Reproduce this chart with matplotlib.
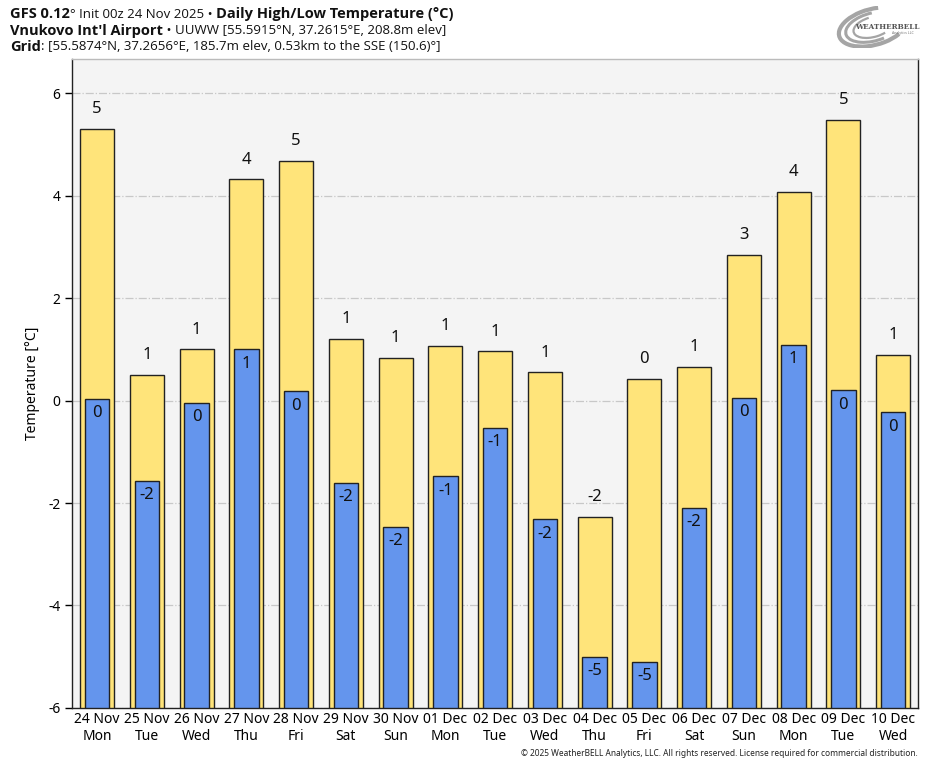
import matplotlib
matplotlib.use("Agg")
import matplotlib.pyplot as plt
from matplotlib.patches import Arc
from matplotlib import font_manager
import numpy as np

plt.rcParams['font.family'] = ['Noto Sans', 'DejaVu Sans']

dates = ["24 Nov", "25 Nov", "26 Nov", "27 Nov", "28 Nov", "29 Nov", "30 Nov",
         "01 Dec", "02 Dec", "03 Dec", "04 Dec", "05 Dec", "06 Dec", "07 Dec",
         "08 Dec", "09 Dec", "10 Dec"]
days = ["Mon", "Tue", "Wed", "Thu", "Fri", "Sat", "Sun", "Mon", "Tue", "Wed",
        "Thu", "Fri", "Sat", "Sun", "Mon", "Tue", "Wed"]
highs = [5.31, 0.51, 1.00, 4.32, 4.69, 1.21, 0.84, 1.07, 0.96, 0.55,
         -2.27, 0.43, 0.66, 2.85, 4.08, 5.49, 0.90]
lows = [0.04, -1.56, -0.04, 1.00, 0.18, -1.60, -2.46, -1.48, -0.53, -2.32,
        -5.00, -5.10, -2.09, 0.06, 1.09, 0.20, -0.23]

ymin, ymax = -6, 6.67
yellow = "#FFE47A"
blue = "#6495ED"

# pick a family that really has a bold face
def has_bold(fam):
    for f in font_manager.fontManager.ttflist:
        if f.name == fam and (f.weight in ("bold", 700) or str(f.weight) in ("700", "bold")):
            return True
    return False

bold_family = "DejaVu Sans"
for fam in ["Noto Sans", "Open Sans", "Lato", "Roboto"]:
    if has_bold(fam):
        bold_family = fam
        break
reg_family = bold_family

fig = plt.figure(figsize=(9.35, 7.68), dpi=100)
ax = fig.add_axes([0.0773, 0.0783, 0.9045, 0.8447])
ax.set_facecolor("#F4F4F4")

x = np.arange(len(dates))
ax.bar(x, np.array(highs) - ymin, bottom=ymin, width=0.68, color=yellow,
       edgecolor="#222222", linewidth=1.0, zorder=3)
ax.bar(x, np.array(lows) - ymin, bottom=ymin, width=0.49, color=blue,
       edgecolor="#222222", linewidth=1.0, zorder=4)

def fmt(v):
    r = int(round(v))
    return str(r + 0)

for xi, h, l in zip(x, highs, lows):
    ax.annotate(fmt(h), (xi, h), xytext=(0, 14), textcoords="offset points",
                ha="center", va="center", fontsize=12, color="#111111", zorder=5)
    ax.annotate(fmt(l), (xi, l), xytext=(0, -10.5), textcoords="offset points",
                ha="center", va="center", fontsize=12, color="#111111", zorder=5)

ax.set_xlim(-0.5, 16.5)
ax.set_ylim(ymin, ymax)
ax.set_yticks([-6, -4, -2, 0, 2, 4, 6])
ax.set_yticklabels(["-6", "-4", "-2", "0", "2", "4", "6"])
ax.set_xticks(x)
ax.set_xticklabels([f"{d}\n{w}" for d, w in zip(dates, days)], fontsize=10,
                   linespacing=1.15)
ax.tick_params(axis="x", length=0, pad=3)
ax.tick_params(axis="y", length=5, width=1, labelsize=10, direction="out")
ax.yaxis.grid(True, color="#C8C8C8", linestyle="-.", linewidth=0.9, zorder=0)
ax.set_axisbelow(True)
ax.set_ylabel("Temperature [°C]", fontsize=10, labelpad=6)

for s in ["left", "bottom", "right"]:
    ax.spines[s].set_color("#222222")
    ax.spines[s].set_linewidth(1.0)
ax.spines["top"].set_color("#BBBBBB")
ax.spines["top"].set_linewidth(1.0)

# header with mixed bold/regular pieces
fig.canvas.draw()
renderer = fig.canvas.get_renderer()

def draw_line(pieces, y_px, x_px=10):
    xp = x_px
    for txt, bold in pieces:
        t = fig.text(xp / 935, 1 - y_px / 768, txt,
                     fontsize=10.5 if bold else 9.5,
                     family=[bold_family if bold else reg_family, "DejaVu Sans"],
                     fontweight="bold" if bold else "normal",
                     ha="left", va="center", color="#111111")
        bb = t.get_window_extent(renderer=renderer)
        xp += bb.width

draw_line([("GFS 0.12", True), ("° Init 00z 24 Nov 2025 • ", False),
           ("Daily High/Low Temperature (°C)", True)], 14)
draw_line([("Vnukovo Int'l Airport", True),
           (" • UUWW [55.5915°N, 37.2615°E, 208.8m elev]", False)], 31)
draw_line([("Grid", True),
           (": [55.5874°N, 37.2656°E, 185.7m elev, 0.53km to the SSE (150.6)°]", False)], 47)

# logo approximation
lax = fig.add_axes([835 / 935, 1 - 48 / 768, 88 / 935, 42 / 768])
lax.set_xlim(0, 88)
lax.set_ylim(0, 42)
lax.axis("off")
for w, h, a, th1, th2, lw in [(70, 36, 15, 60, 330, 3.0), (56, 28, 15, 80, 300, 2.2),
                              (40, 20, 15, 100, 320, 1.6)]:
    lax.add_patch(Arc((38, 21), w, h, angle=a, theta1=th1, theta2=th2,
                      color="#A5A5A5", lw=lw))
lax.text(52, 21, "WEATHERBELL", fontsize=5.2, fontweight="bold", color="#555555",
         ha="center", va="center", family="DejaVu Serif")
lax.text(68, 15, "Analytics LLC", fontsize=2.6, color="#777777", ha="center", va="center")

fig.text(918 / 935, 1 - 754 / 768,
         "© 2025 WeatherBELL Analytics, LLC. All rights reserved. License required for commercial distribution.",
         fontsize=6, ha="right", va="center", color="#222222")

fig.savefig("out.png", dpi=100)
